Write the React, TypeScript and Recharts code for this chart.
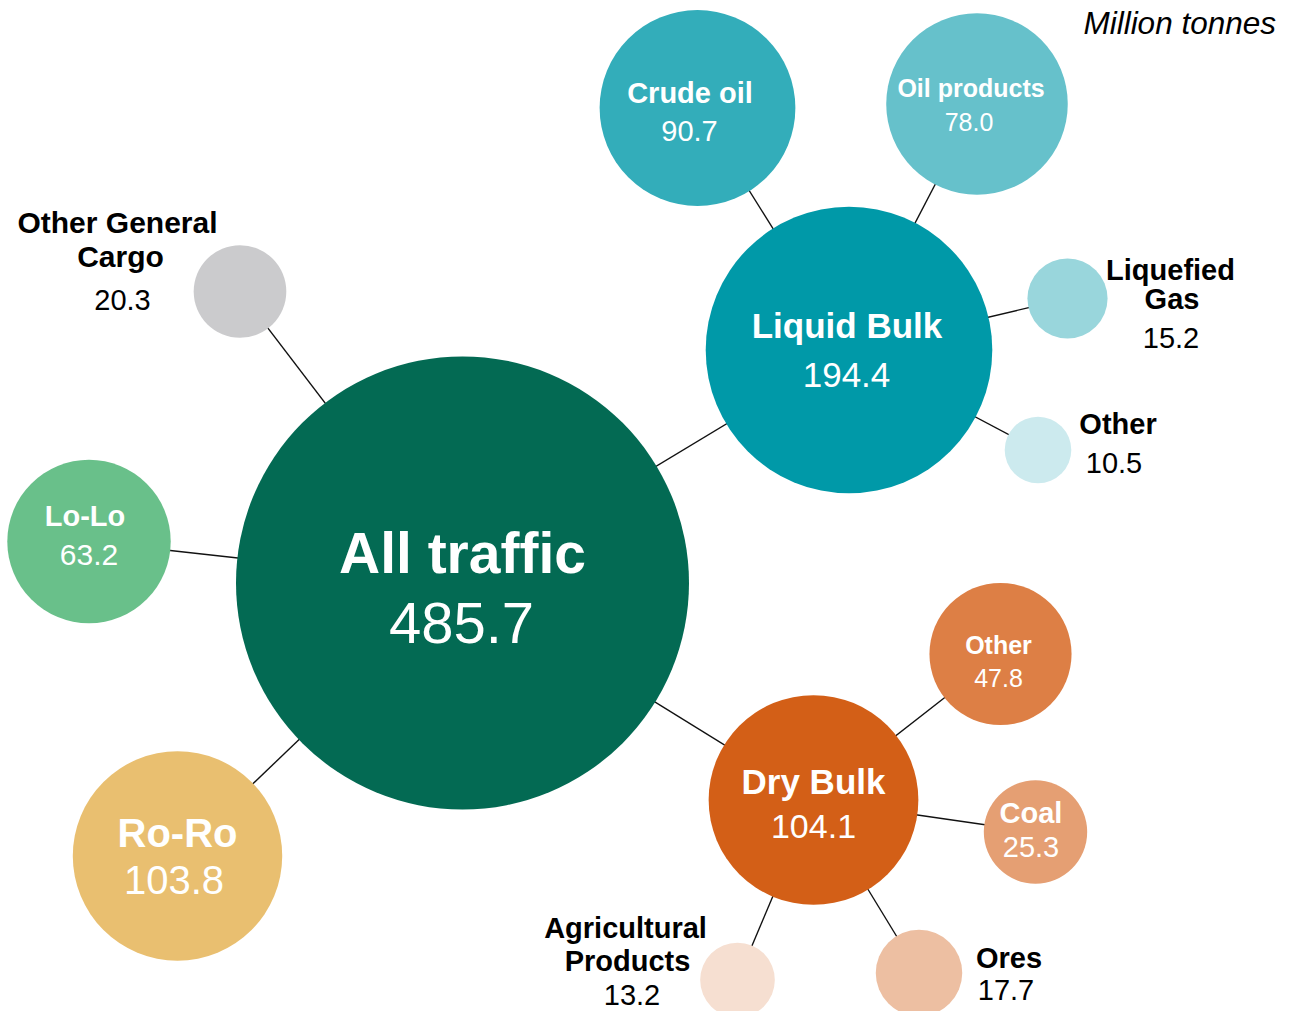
import { Scatter, ScatterChart, XAxis, YAxis, ZAxis } from "recharts"

const W = 1292
const H = 1011
const FONT = '"Liberation Sans", Arial, Helvetica, sans-serif'

// cargo groups, million tonnes
const IDS = ["all", "liquid", "crude", "oilProducts", "lng", "liquidOther", "dry", "dryOther", "coal", "ores", "agri", "lolo", "roro", "otherGeneral"]
const NAMES = ["All traffic", "Liquid Bulk", "Crude oil", "Oil products", "Liquefied Gas", "Other", "Dry Bulk", "Other", "Coal", "Ores", "Agricultural Products", "Lo-Lo", "Ro-Ro", "Other General Cargo"]
const TONNES = [485.7, 194.4, 90.7, 78.0, 15.2, 10.5, 104.1, 47.8, 25.3, 17.7, 13.2, 63.2, 103.8, 20.3]
// index of the group each bubble hangs from (-1 = root)
const PARENT = [-1, 0, 1, 1, 1, 1, 0, 6, 6, 6, 6, 0, 0, 0]

// layout: bubble centres in the 1292x1011 frame
const POS_X = [462.5, 849, 697.5, 977, 1067.5, 1038, 813.5, 1000.5, 1035.5, 919, 737.5, 89, 177.5, 240]
const POS_Y = [583, 350, 108, 104, 298.5, 450, 800, 654, 832, 973, 980, 541.5, 856, 291.5]

const FILLS = ["#036A53", "#0099A8", "#33ADBA", "#66C1CB", "#99D6DC", "#CCEAEE", "#D35F17", "#DD7F45", "#E59F73", "#EDBFA2", "#F6DFD1", "#69C08A", "#E9BF70", "#CBCBCD"]

// label placement relative to the bubble centre: [dx, dy of baseline]
type LabelLayout = {
  inside: boolean
  size: number
  valueSize: number
  wordsFirstLine: number
  nameAt: [number, number][]
  valueAt: [number, number]
}

const LABELS: LabelLayout[] = [
  { inside: true, size: 57, valueSize: 58, wordsFirstLine: 0, nameAt: [[0, -10]], valueAt: [-1, 60] },
  { inside: true, size: 35, valueSize: 35, wordsFirstLine: 0, nameAt: [[-2, -12]], valueAt: [-2.5, 37] },
  { inside: true, size: 29, valueSize: 29, wordsFirstLine: 0, nameAt: [[-7.5, -5]], valueAt: [-8, 33] },
  { inside: true, size: 25, valueSize: 25, wordsFirstLine: 0, nameAt: [[-6, -7]], valueAt: [-8, 27] },
  { inside: false, size: 29, valueSize: 29, wordsFirstLine: 1, nameAt: [[103, -18.5], [104.5, 10.5]], valueAt: [103.5, 49.5] },
  { inside: false, size: 29, valueSize: 29, wordsFirstLine: 0, nameAt: [[80, -16]], valueAt: [76, 23] },
  { inside: true, size: 35, valueSize: 34, wordsFirstLine: 0, nameAt: [[0, -6]], valueAt: [0, 38] },
  { inside: true, size: 25, valueSize: 25, wordsFirstLine: 0, nameAt: [[-2, 0]], valueAt: [-2, 33] },
  { inside: true, size: 29, valueSize: 29, wordsFirstLine: 0, nameAt: [[-4.5, -9]], valueAt: [-4.5, 25] },
  { inside: false, size: 29, valueSize: 29, wordsFirstLine: 0, nameAt: [[90, -5]], valueAt: [87, 27] },
  { inside: false, size: 29, valueSize: 29, wordsFirstLine: 1, nameAt: [[-112, -42], [-110, -9]], valueAt: [-105.5, 25] },
  { inside: true, size: 29, valueSize: 30, wordsFirstLine: 0, nameAt: [[-4, -15.5]], valueAt: [0, 23.5] },
  { inside: true, size: 40, valueSize: 40, wordsFirstLine: 0, nameAt: [[0, -9]], valueAt: [-3.5, 38] },
  { inside: false, size: 30, valueSize: 29, wordsFirstLine: 2, nameAt: [[-122.5, -58.5], [-119.5, -25]], valueAt: [-117.5, 18.5] },
]

const MAX_VALUE = Math.max(...TONNES)
const MAX_RADIUS = 226.5

const bubbles = IDS.map((id, i) => ({
  id,
  name: NAMES[i],
  value: TONNES[i],
  x: POS_X[i],
  y: POS_Y[i],
  fill: FILLS[i],
  label: LABELS[i],
}))

const links = IDS.map((id, i) => ({ id, parent: PARENT[i], i }))
  .filter((l) => l.parent >= 0)
  .map((l) => ({
    id: l.id,
    points: [
      { x: POS_X[l.parent], y: POS_Y[l.parent] },
      { x: POS_X[l.i], y: POS_Y[l.i] },
    ],
  }))

function splitName(name: string, words: number) {
  if (!words) return [name]
  const parts = name.split(" ")
  return [parts.slice(0, words).join(" "), parts.slice(words).join(" ")]
}

function Bubble(props: any) {
  const { cx, cy, width, payload } = props
  const r = width / 2
  const lb: LabelLayout = payload.label
  const color = lb.inside ? "#ffffff" : "#000000"
  const lines = splitName(payload.name, lb.wordsFirstLine)
  return (
    <g>
      <circle cx={cx} cy={cy} r={r} fill={payload.fill} />
      {lines.map((t, k) => (
        <text
          key={k}
          x={cx + lb.nameAt[k][0]}
          y={cy + lb.nameAt[k][1]}
          textAnchor="middle"
          fontFamily={FONT}
          fontWeight="bold"
          fontSize={lb.size}
          fill={color}
        >
          {t}
        </text>
      ))}
      <text
        x={cx + lb.valueAt[0]}
        y={cy + lb.valueAt[1]}
        textAnchor="middle"
        fontFamily={FONT}
        fontSize={lb.valueSize}
        fill={color}
      >
        {payload.value.toFixed(1)}
      </text>
    </g>
  )
}

export default function App() {
  return (
    <div style={{ position: "absolute", left: 0, top: 0, width: W, height: H, background: "#fff" }}>
      <ScatterChart width={W} height={H} margin={{ top: 0, right: 0, bottom: 0, left: 0 }}>
        <XAxis type="number" dataKey="x" domain={[0, W]} allowDataOverflow hide />
        <YAxis type="number" dataKey="y" domain={[0, H]} allowDataOverflow reversed hide />
        <ZAxis type="number" dataKey="value" domain={[0, MAX_VALUE]} range={[0, Math.PI * MAX_RADIUS * MAX_RADIUS]} scale="linear" />
        {links.map((l) => (
          <Scatter
            key={l.id}
            data={l.points}
            line={{ stroke: "#111", strokeWidth: 1.4 }}
            shape={() => <g />}
            isAnimationActive={false}
          />
        ))}
        <Scatter data={bubbles} shape={Bubble} isAnimationActive={false} />
      </ScatterChart>
      <div
        style={{
          position: "absolute",
          top: 5,
          right: 16,
          fontFamily: FONT,
          fontStyle: "italic",
          fontSize: 31.5,
          color: "#000",
        }}
      >
        Million tonnes
      </div>
    </div>
  )
}
